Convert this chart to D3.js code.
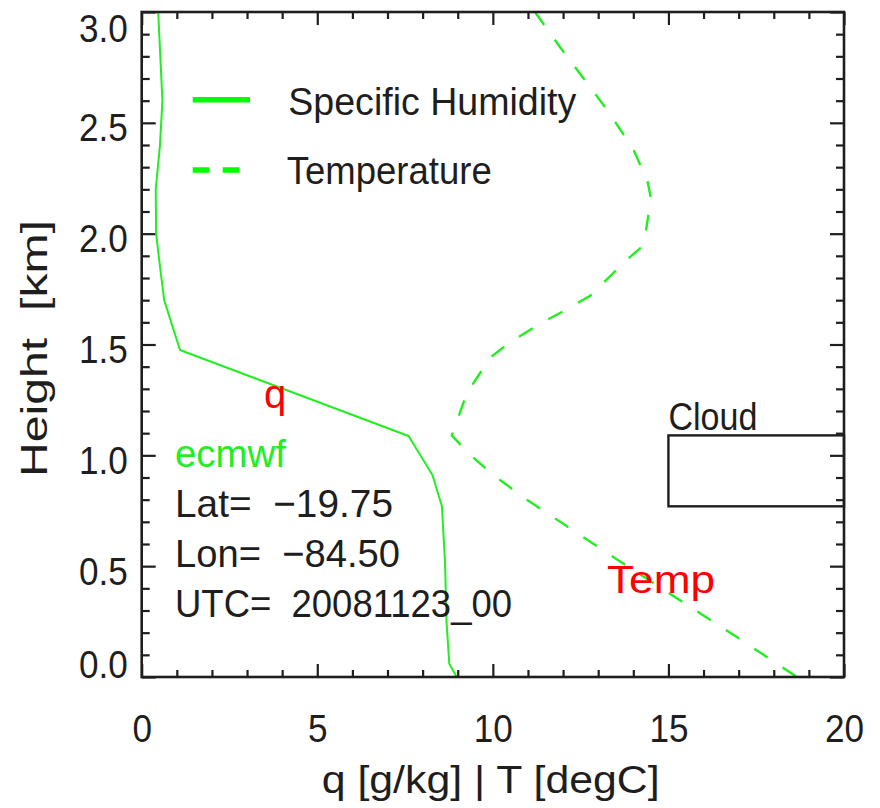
<!DOCTYPE html>
<html>
<head>
<meta charset="utf-8">
<script src="https://cdn.jsdelivr.net/npm/d3@7"></script>
<style>
  html, body { margin: 0; padding: 0; background: #fff; }
  svg { display: block; }
  text { font-family: "Liberation Sans", Arial, Helvetica, sans-serif; white-space: pre; }
</style>
</head>
<body>
<svg id="chart" width="880" height="808"></svg>
<script>
// ECMWF profile: specific humidity (g/kg) against height (km)
const qHeight = [3.0, 2.8, 2.6, 2.4, 2.2, 2.0, 1.88, 1.7, 1.475, 1.087, 0.911, 0.77, 0.51, 0.25, 0.06, 0.0];
const qValue  = [0.47, 0.53, 0.59, 0.52, 0.40, 0.41, 0.50, 0.64, 1.09, 7.60, 8.28, 8.55, 8.64, 8.68, 8.76, 8.97];

// Temperature (degC) against height (km)
const tHeight = [3.0, 2.84, 2.56, 2.38, 2.24, 2.16, 2.0, 1.94, 1.88, 1.72, 1.65, 1.595, 1.505, 1.44, 1.28, 1.09, 1.01, 0.91, 0.80, 0.56, 0.18, 0.0];
const tValue  = [11.2, 11.92, 13.25, 14.0, 14.4, 14.5, 14.35, 14.24, 13.8, 12.77, 12.01, 11.35, 10.44, 9.92, 9.26, 8.83, 9.3, 10.02, 10.97, 13.25, 16.95, 18.66];

// Cloud layer: base/top heights (km) and x extent
const cloudLayer = [0.77, 1.09];
const cloudX = [15, 20];

// Axes
const xDomain = [0, 20];
const yDomain = [0, 3];
const xMajorTicks = [0, 5, 10, 15, 20];
const xMinorTicks = d3.range(0, 21, 1);
const yMajorTicks = [0.0, 0.5, 1.0, 1.5, 2.0, 2.5, 3.0];
const yMinorTicks = d3.range(0, 31, 1).map(d => d / 10);
const xTitle = "q [g/kg] | T [degC]";
const yTitle = "Height  [km]";

// Legend and annotation texts
const legendLabels = ["Specific Humidity", "Temperature"];
const modelName = "ecmwf";
const infoLines = ["Lat=  \u221219.75", "Lon=  \u221284.50", "UTC=  20081123_00"];
const cloudLabel = "Cloud";
const qTag = "q";
const tempTag = "Temp";

const GREEN = "#22ee22";
const INK = "#1e1e1e";
const FS = 39;

const svg = d3.select("#chart");
const pL = 141.7, pR = 844, pT = 12, pB = 677;

const x = d3.scaleLinear().domain(xDomain).range([pL, pR]);
const y = d3.scaleLinear().domain(yDomain).range([pB, pT]);

svg.append("defs").append("clipPath").attr("id", "plotClip")
  .append("rect").attr("x", pL).attr("y", pT)
  .attr("width", pR - pL).attr("height", pB - pT);

// Tick marks on all four sides, pointing inward
function tickAxis(gen, tx, ty, values, size) {
  const g = svg.append("g").attr("transform", `translate(${tx},${ty})`)
    .call(gen.tickValues(values).tickSize(size).tickSizeOuter(0).tickFormat(""));
  g.select(".domain").remove();
  g.selectAll(".tick line").attr("stroke", INK).attr("stroke-width", 2.2);
  return g;
}
const xMinorOnly = xMinorTicks.filter(v => !xMajorTicks.includes(v));
const yMinorOnly = yMinorTicks.filter(v => !yMajorTicks.some(m => Math.abs(m - v) < 1e-9));

tickAxis(d3.axisBottom(x), 0, pB, xMinorOnly, -7);
tickAxis(d3.axisBottom(x), 0, pB, xMajorTicks, -13);
tickAxis(d3.axisTop(x), 0, pT, xMinorOnly, -7);
tickAxis(d3.axisTop(x), 0, pT, xMajorTicks, -13);
tickAxis(d3.axisLeft(y), pL, 0, yMinorOnly, -8);
tickAxis(d3.axisLeft(y), pL, 0, yMajorTicks, -14);
tickAxis(d3.axisRight(y), pR, 0, yMinorOnly, -8);
tickAxis(d3.axisRight(y), pR, 0, yMajorTicks, -14);

// Tick labels
const yLab = svg.append("g").attr("transform", `translate(${pL},0)`)
  .call(d3.axisLeft(y).tickValues(yMajorTicks).tickSize(0).tickPadding(14)
    .tickFormat(d3.format(".1f")));
yLab.select(".domain").remove();
yLab.selectAll("text")
  .attr("font-size", FS).attr("fill", INK).attr("font-family", null)
  .attr("dy", d => {
    const c = Math.min(Math.max(y(d) + 4, pT + 15.5), pB - 14);
    return (c + 14 - y(d)) + "px";
  })
  .each(function () {
    const w = this.getComputedTextLength();
    d3.select(this).attr("textLength", w * 0.9).attr("lengthAdjust", "spacingAndGlyphs");
  });

const xLab = svg.append("g").attr("transform", `translate(0,${pB})`)
  .call(d3.axisBottom(x).tickValues(xMajorTicks).tickSize(0).tickFormat(d3.format("d")));
xLab.select(".domain").remove();
xLab.selectAll("text")
  .attr("font-size", FS).attr("fill", INK).attr("font-family", null)
  .attr("y", 65).attr("dy", 0)
  .each(function () {
    const w = this.getComputedTextLength();
    d3.select(this).attr("textLength", w * 0.9).attr("lengthAdjust", "spacingAndGlyphs");
  });

// Axis titles
svg.append("text").text(xTitle)
  .attr("x", 321.7).attr("y", 793)
  .attr("font-size", FS).attr("fill", INK)
  .attr("textLength", 338).attr("lengthAdjust", "spacingAndGlyphs");

svg.append("text").text(yTitle)
  .attr("transform", `translate(47,477) rotate(-90)`)
  .attr("font-size", 37).attr("fill", INK)
  .attr("textLength", 257).attr("lengthAdjust", "spacingAndGlyphs");

// Cloud layer box
svg.append("rect")
  .attr("x", x(cloudX[0])).attr("y", y(cloudLayer[1]))
  .attr("width", x(cloudX[1]) - x(cloudX[0]))
  .attr("height", y(cloudLayer[0]) - y(cloudLayer[1]))
  .attr("fill", "none").attr("stroke", INK).attr("stroke-width", 2.4);
svg.append("text").text(cloudLabel)
  .attr("x", x(cloudX[0])).attr("y", 430)
  .attr("font-size", FS).attr("fill", INK)
  .attr("textLength", 89).attr("lengthAdjust", "spacingAndGlyphs");

// Profiles
const plot = svg.append("g").attr("clip-path", "url(#plotClip)");
const line = d3.line().x(d => x(d[0])).y(d => y(d[1]));

plot.append("path")
  .datum(qValue.map((v, i) => [v, qHeight[i]]))
  .attr("d", line)
  .attr("fill", "none").attr("stroke", GREEN).attr("stroke-width", 2)
  .attr("stroke-linejoin", "round");

plot.append("path")
  .datum(tValue.map((v, i) => [v, tHeight[i]]))
  .attr("d", line)
  .attr("fill", "none").attr("stroke", GREEN).attr("stroke-width", 2.4)
  .attr("stroke-dasharray", "16,18");

// Frame
svg.append("rect")
  .attr("x", pL).attr("y", pT)
  .attr("width", pR - pL).attr("height", pB - pT)
  .attr("fill", "none").attr("stroke", INK).attr("stroke-width", 2.6);

// Legend
const legend = svg.append("g");
legend.append("line").attr("x1", 192.7).attr("x2", 250).attr("y1", 99.7).attr("y2", 99.7)
  .attr("stroke", "#00ff00").attr("stroke-width", 5.5);
legend.append("line").attr("x1", 192.7).attr("x2", 240).attr("y1", 170).attr("y2", 170)
  .attr("stroke", "#00ff00").attr("stroke-width", 5.5).attr("stroke-dasharray", "16.6,13.4");
legend.append("text").text(legendLabels[0])
  .attr("x", 288.3).attr("y", 115).attr("font-size", FS).attr("fill", INK)
  .attr("textLength", 288).attr("lengthAdjust", "spacingAndGlyphs");
legend.append("text").text(legendLabels[1])
  .attr("x", 286.7).attr("y", 183.5).attr("font-size", FS).attr("fill", INK)
  .attr("textLength", 205).attr("lengthAdjust", "spacingAndGlyphs");

// Model / location block
svg.append("text").text(modelName)
  .attr("x", 175).attr("y", 466.5).attr("font-size", FS).attr("fill", GREEN)
  .attr("textLength", 111).attr("lengthAdjust", "spacingAndGlyphs");
const infoWidths = [218, 225, 337];
infoLines.forEach((t, i) => {
  svg.append("text").text(t)
    .attr("x", 175).attr("y", 516.7 + i * 50.3).attr("font-size", FS).attr("fill", INK)
    .attr("textLength", infoWidths[i]).attr("lengthAdjust", "spacingAndGlyphs");
});

// Red series tags
const tagFont = '"Open Sans", "Noto Sans", sans-serif';
svg.append("text").text(qTag)
  .attr("x", 264).attr("y", 408).attr("font-size", 40)
  .attr("font-family", tagFont).attr("fill", "#ff0000");
svg.append("text").text(tempTag)
  .attr("x", 607).attr("y", 593).attr("font-size", 39)
  .attr("font-family", tagFont).attr("fill", "#ff0000")
  .attr("textLength", 108).attr("lengthAdjust", "spacingAndGlyphs");
</script>
</body>
</html>
